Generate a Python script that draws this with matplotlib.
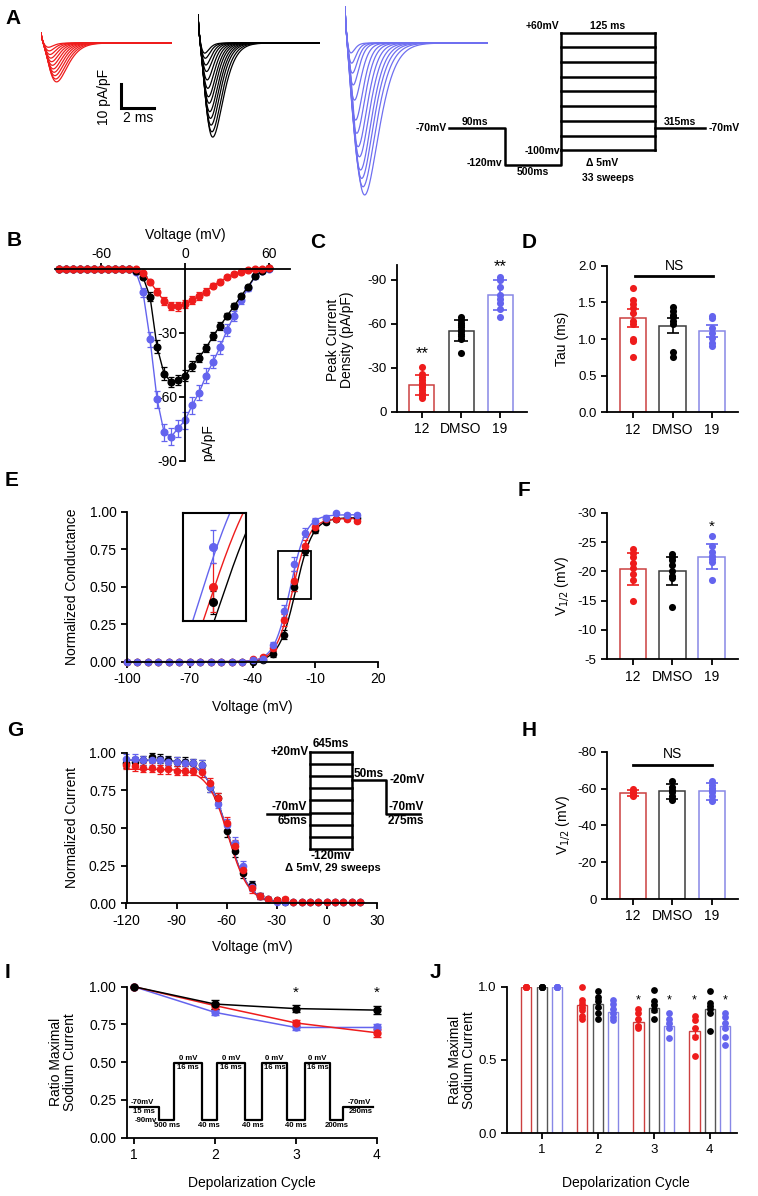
import numpy as np
import matplotlib
matplotlib.use("Agg")
import matplotlib.pyplot as plt
from matplotlib.patches import Rectangle
from matplotlib.transforms import offset_copy
from matplotlib.ticker import FormatStrFormatter

plt.rcParams['font.family'] = ['Liberation Sans', 'DejaVu Sans']
plt.rcParams['axes.unicode_minus'] = False
plt.rcParams['axes.linewidth'] = 1.3
plt.rcParams['xtick.major.width'] = 1.3
plt.rcParams['ytick.major.width'] = 1.3
plt.rcParams['xtick.major.size'] = 4
plt.rcParams['ytick.major.size'] = 4
plt.rcParams['xtick.labelsize'] = 10
plt.rcParams['ytick.labelsize'] = 10

RED, BLUE, BLACK = '#ee1c1c', '#6464ee', '#000000'
RED_EDGE, BLUE_EDGE, BLACK_EDGE = '#cc4040', '#8888e6', '#3c3c3c'
NARROW = ['Liberation Sans Narrow', 'Liberation Sans', 'DejaVu Sans']

# ---------------- data ----------------
# A: example traces (peak density pA/pF, time to peak ms, start artefact pA/pF)
red_amp = [16.2, 15.0, 13.6, 12.2, 10.8, 9.3, 7.8, 6.3, 4.8, 3.3, 1.8]
red_tp = [0.95, 0.9, 0.85, 0.8, 0.75, 0.7, 0.65, 0.6, 0.55, 0.5, 0.45]
black_amp = [39.2, 37.0, 34.2, 31.4, 28.6, 25.1, 22.4, 18.9, 15.4, 11.9, 9.2, 6.4, 4.3]
black_tp = [0.9, 0.85, 0.8, 0.76, 0.72, 0.68, 0.64, 0.6, 0.56, 0.52, 0.48, 0.44, 0.4]
blue_amp = [63.3, 59.9, 56.4, 52.9, 47.4, 43.2, 37.6, 32.1, 23.8, 17.5, 12.6, 8.5, 4.3]
blue_tp = [1.2, 1.1, 1.02, 0.95, 0.88, 0.8, 0.72, 0.65, 0.58, 0.5, 0.45, 0.4, 0.35]
artefact = {'red': 4.2, 'black': 11.7, 'blue': 15.0}

# A: activation protocol (schematic)
pA_widths = [56, 56, 94, 50]
pA_hold, pA_pre = -70, -120
pA_steps = np.arange(-100, 61, 20)

# B: I-V relation
iv_v = np.arange(-90, 61, 5)
iv_red = [0] * 12 + [-1.7, -6.0, -10.6, -15.0, -17.4, -17.5, -16.4, -14.5, -12.7, -10.6,
                     -7.8, -5.9, -3.9, -2.2, -1.2, -0.6, -0.2, 0.2, 0.6]
iv_black = [0] * 11 + [-0.8, -3.8, -13.0, -36.5, -49.0, -53.0, -52.0, -50.0, -45.5, -41.5,
                       -37.0, -31.5, -26.7, -22.0, -17.4, -12.7, -8.3, -3.5, -1.0, 0.3]
iv_blue = [0] * 11 + [-1.5, -11.0, -33.0, -61.0, -76.5, -78.7, -74.7, -71.0, -64.0, -58.0,
                      -50.0, -43.5, -36.7, -28.6, -22.0, -14.5, -9.0, -3.5, -1.0, 0.0]
iv_red_err = [0] * 12 + [0.5, 1, 1.5, 2, 2, 2, 2, 2, 2, 1.5, 1.2, 1, 1, 0.8, 0.6, 0.5, 0.4, 0.3, 0.3]
iv_black_err = [0] * 11 + [0.3, 1, 2, 3, 3, 2.5, 2.5, 2.5, 2.5, 2.2, 2, 2, 1.8, 1.5, 1.5, 1.2, 1, 0.8, 0.5, 0.3]
iv_blue_err = [0] * 11 + [0.5, 2, 3.5, 4, 4, 4, 4, 4, 4, 3.5, 3.5, 3, 3, 3, 2.5, 2, 1.5, 1, 0.5, 0.3]

groups = ['12', 'DMSO', '19']
# C: peak current density
c_mean = [-18.5, -55.5, -79.8]
c_err = [6.7, 7.0, 10.0]
c_dots = [[-31, -26, -24, -22, -20, -18, -17, -15, -13, -11, -9.5],
          [-65, -63, -61, -59, -58, -56, -55, -53, -52, -50, -40],
          [-92, -90, -85, -80, -77, -74, -70, -65]]
# D: tau
d_mean = [1.29, 1.18, 1.11]
d_err = [0.12, 0.10, 0.08]
d_dots = [[1.7, 1.53, 1.48, 1.42, 1.35, 1.25, 1.2, 1.0, 0.97, 0.76],
          [1.43, 1.38, 1.33, 1.3, 1.25, 1.2, 0.82, 0.75],
          [1.32, 1.28, 1.15, 1.08, 1.02, 0.95, 0.9]]

# E: conductance-voltage
e_v = np.arange(-100, 11, 5)
e_blue = [0] * 12 + [0.01, 0.02, 0.11, 0.34, 0.65, 0.86, 0.94, 0.96, 0.99, 0.98, 0.98]
e_red = [0] * 12 + [0.02, 0.03, 0.09, 0.28, 0.54, 0.77, 0.90, 0.95, 0.95, 0.95, 0.94]
e_black = [0] * 12 + [0.0, 0.01, 0.05, 0.18, 0.50, 0.74, 0.88, 0.93, 0.95, 0.96, 0.96]
e_blue_err = [0] * 12 + [0.005, 0.01, 0.02, 0.04, 0.045, 0.03, 0.02, 0.015, 0.01, 0.01, 0.01]
e_red_err = [0] * 12 + [0.005, 0.01, 0.02, 0.04, 0.066, 0.04, 0.02, 0.015, 0.01, 0.01, 0.015]
e_black_err = [0] * 12 + [0.005, 0.01, 0.02, 0.03, 0.03, 0.03, 0.02, 0.015, 0.01, 0.01, 0.01]
# Boltzmann fit parameters (V1/2, slope k, max)
e_fit = {'black': (-19.3, 4.0, 0.96), 'red': (-20.8, 3.9, 0.955), 'blue': (-22.0, 3.8, 0.98)}
e_zoom_box = (-28, 0.42, 16, 0.32)
e_inset_xlim = (-23.9, -15.6)
e_inset_ylim = (0.45, 0.74)

# F: activation V1/2
f_mean = [-20.4, -20.0, -22.5]
f_err = [2.7, 2.4, 2.1]
f_dots = [[-23.8, -23.2, -22.5, -21.5, -20.5, -19.5, -18.5, -15.0],
          [-23, -22.5, -22, -21, -20, -19.2, -18.8, -14],
          [-26, -24.3, -23.3, -22.6, -22.1, -21.6, -18.5]]

# G: steady-state inactivation
g_v = np.arange(-120, 21, 5)
g_black = [0.93, 0.94, 0.95, 0.97, 0.96, 0.95, 0.94, 0.94, 0.93, 0.92, 0.77, 0.70, 0.48, 0.35,
           0.20, 0.12, 0.05, 0.03, 0.02, 0.01, 0.01, 0.01, 0.01, 0.01, 0.01, 0.01, 0.01, 0.01, 0.01]
g_red = [0.92, 0.91, 0.90, 0.90, 0.89, 0.89, 0.88, 0.88, 0.88, 0.87, 0.80, 0.70, 0.53, 0.38,
         0.22, 0.10, 0.05, 0.03, 0.02, 0.03, 0.01, 0.01, 0.01, 0.01, 0.01, 0.01, 0.01, 0.01, 0.01]
g_blue = [0.96, 0.96, 0.95, 0.95, 0.95, 0.94, 0.94, 0.93, 0.93, 0.92, 0.77, 0.66, 0.52, 0.40,
          0.25, 0.11, 0.05, 0.03, 0.01, 0.01, 0.01, 0.01, 0.01, 0.01, 0.01, 0.01, 0.01, 0.01, 0.01]
g_err = [0.03] * 10 + [0.03, 0.03, 0.04, 0.04, 0.03, 0.03, 0.02, 0.01, 0.01, 0.015] + [0.005] * 9
g_fit = {'black': (-59.5, 6.5, 0.95), 'blue': (-59.5, 6.5, 0.95), 'red': (-59.0, 6.2, 0.89)}
# G protocol (schematic widths)
pG_widths = [43, 42, 34, 34]
pG_hold, pG_tail = -70, -20
pG_steps = np.linspace(-120, 20, 9)

# H: inactivation V1/2
h_mean = [-57.5, -58.5, -58.5]
h_err = [1.5, 4.0, 4.5]
h_dots = [[-59.5, -58.5, -58, -57.5, -57, -56.5, -56],
          [-64, -61, -59, -58, -56, -54.5, -54],
          [-64, -62, -60.5, -59, -58, -56, -54, -53]]

# I / J: use dependence
cycles = [1, 2, 3, 4]
i_black = [1.0, 0.885, 0.855, 0.845]
i_red = [1.0, 0.875, 0.76, 0.695]
i_blue = [1.0, 0.83, 0.73, 0.73]
i_black_err = [0, 0.03, 0.025, 0.025]
i_red_err = [0, 0.02, 0.02, 0.025]
i_blue_err = [0, 0.015, 0.015, 0.02]
pI_levels = [-70, -90, 0, -90, 0, -90, 0, -90, 0, -90, -70]
pI_widths = [29.3, 14.7, 27.7, 15, 28.3, 16.7, 25.6, 17.7, 25, 13.3, 30]
pI_durations = ['15 ms', '500 ms', '16 ms', '40 ms', '16 ms', '40 ms', '16 ms', '40 ms', '16 ms', '200ms', '290ms']
j_red = [[1.0] * 6, [1.0, 0.91, 0.88, 0.86, 0.84, 0.80, 0.78], [0.85, 0.82, 0.78, 0.73, 0.72],
         [0.80, 0.77, 0.72, 0.66, 0.53]]
j_black = [[1.0] * 6, [0.97, 0.93, 0.90, 0.86, 0.82, 0.78], [0.98, 0.90, 0.875, 0.84, 0.78],
           [0.97, 0.89, 0.87, 0.85, 0.82, 0.70]]
j_blue = [[1.0] * 6, [0.91, 0.88, 0.85, 0.82, 0.79, 0.77], [0.82, 0.78, 0.755, 0.72, 0.65],
          [0.82, 0.79, 0.75, 0.72, 0.66, 0.60]]

# ---------------- helpers ----------------
W, H = 758, 1196
fig = plt.figure(figsize=(W / 100, H / 100), dpi=100)


def px_axes(l, t, r, b):
    return fig.add_axes([l / W, 1 - b / H, (r - l) / W, (b - t) / H])


def px_text(x, y, s, **kw):
    kw.setdefault('ha', 'center')
    kw.setdefault('va', 'center')
    fig.text(x / W, 1 - y / H, s, **kw)


def lbl(ax, x, y, s, dx=0, dy=0, **kw):
    tr = offset_copy(ax.transData, fig=fig, x=dx, y=dy, units='dots')
    ax.text(x, y, s, transform=tr, clip_on=False, **kw)


def clean(ax):
    ax.spines['top'].set_visible(False)
    ax.spines['right'].set_visible(False)


def bar_panel(ax, means, errs, dots, width, capsize):
    cols = [RED, BLACK, BLUE]
    edges = [RED_EDGE, BLACK_EDGE, BLUE_EDGE]
    for i in range(3):
        ax.bar(i, means[i], width=width, facecolor='white', edgecolor=edges[i], lw=1.1, zorder=1)
        ax.scatter(np.full(len(dots[i]), i), dots[i], s=26, color=cols[i], lw=0, zorder=3, clip_on=False)
        ax.errorbar(i, means[i], yerr=errs[i], color=cols[i], capsize=capsize, elinewidth=1.2,
                    capthick=1.2, zorder=4)
    ax.set_xticks([0, 1, 2], groups)
    ax.tick_params(axis='x', labelsize=10)
    ax.tick_params(axis='y', labelsize=9.5)
    clean(ax)


def boltz_act(v, vh, k, a):
    return a / (1 + np.exp((vh - v) / k))


def boltz_inact(v, vh, k, a):
    return a / (1 + np.exp((v - vh) / k))


# panel letters
for L, x, y in [('A', 5, 18), ('B', 7, 241), ('C', 310, 243), ('D', 522, 243), ('E', 5, 481),
                ('F', 518, 490), ('G', 7, 731), ('H', 522, 730), ('I', 5, 972), ('J', 430, 973)]:
    px_text(x, y, L, ha='left', fontsize=15, fontweight='bold')

# ---------------- A ----------------
trace_t = np.linspace(0, 9, 900)


def na_trace(amp, tp, art, n=3.0):
    return art * np.exp(-trace_t / 0.08) - amp * (trace_t / tp) ** n * np.exp(n * (1 - trace_t / tp))


for key, box, tmax, amps, tps, col in [('red', (41, 0, 171.5, 200), 7.96, red_amp, red_tp, RED),
                                        ('black', (198, 0, 320, 200), 7.44, black_amp, black_tp, BLACK),
                                        ('blue', (345, 0, 488, 200), 8.72, blue_amp, blue_tp, '#6f6ff0')]:
    ax = px_axes(*box)
    for amp, tp in zip(amps, tps):
        ax.plot(trace_t, na_trace(amp, tp, artefact[key]), color=col, lw=0.9)
    ax.set_xlim(0, tmax)
    ax.set_ylim(-65.4, 17.9)
    ax.axis('off')
    if key == 'red':
        sb_t, sb_y = 4.88, -27.1
        ax.plot([sb_t, sb_t, sb_t + 2], [sb_y + 10, sb_y, sb_y], color='black', lw=2.2,
                clip_on=False, solid_joinstyle='miter')
        ax.text(3.84, -22.3, '10 pA/pF', rotation=90, ha='center', va='center', fontsize=10,
                clip_on=False)
        ax.text(5.9, -31.3, '2 ms', ha='center', va='center', fontsize=10, clip_on=False)

axP = px_axes(449, 32.7, 705, 165)
x0, x1, x2, x3, x4 = np.cumsum([0] + pA_widths)
kwp = dict(color='black', lw=1.8, clip_on=False, solid_capstyle='projecting')
axP.plot([x0, x1, x1, x2, x2], [pA_hold, pA_hold, pA_pre, pA_pre, pA_steps[0]], **kwp)
for v in pA_steps:
    axP.plot([x2, x3], [v, v], **kwp)
axP.plot([x2, x2], [pA_steps[0], pA_steps[-1]], **kwp)
axP.plot([x3, x3], [pA_steps[0], pA_steps[-1]], **kwp)
axP.plot([x3, x4], [pA_hold, pA_hold], **kwp)
axP.set_xlim(0, x4)
axP.set_ylim(-120, 60)
axP.axis('off')
fp = dict(fontsize=7.5, fontweight='bold')
lbl(axP, x0, pA_hold, '-70mV', dx=-2, ha='right', va='center', **fp)
lbl(axP, (x0 + x1) / 2 - 2, pA_hold, '90ms', dy=1, ha='center', va='bottom', **fp)
lbl(axP, x1, pA_pre, '-120mv', dx=-3, dy=2, ha='right', va='center', **fp)
lbl(axP, (x1 + x2) / 2, pA_pre, '500ms', dy=-2, ha='center', va='top', **fp)
lbl(axP, x2, pA_steps[0], '-100mv', dx=-1, dy=-1, ha='right', va='center', **fp)
lbl(axP, x2, pA_steps[-1], '+60mV', dx=-2, dy=2, ha='right', va='bottom', **fp)
lbl(axP, (x2 + x3) / 2, pA_steps[-1], '125 ms', dy=2, ha='center', va='bottom', **fp)
lbl(axP, (x3 + x4) / 2, pA_hold, '315ms', dy=1, ha='center', va='bottom', **fp)
lbl(axP, x4, pA_hold, '-70mV', dx=4, ha='left', va='center', **fp)
lbl(axP, (x2 + x3) / 2 - 6, pA_pre, '\u0394 5mV', dy=2, ha='center', va='center', **fp)
lbl(axP, (x2 + x3) / 2, pA_pre, '33 sweeps', dy=-13, ha='center', va='center', **fp)

# ---------------- B ----------------
axB = px_axes(55, 259, 290, 462)
for vals, errs, col in [(iv_blue, iv_blue_err, BLUE), (iv_black, iv_black_err, BLACK),
                        (iv_red, iv_red_err, RED)]:
    axB.errorbar(iv_v, vals, yerr=errs, color=col, lw=1.0, marker='o', ms=4.8, capsize=2,
                 elinewidth=0.9, capthick=0.9, clip_on=False)
axB.set_xlim(-92.9, 75)
axB.set_ylim(-90.5, 4.7)
axB.spines['left'].set_position(('data', 0))
axB.spines['left'].set_bounds(-90, 0)
axB.spines['top'].set_position(('data', 0))
axB.spines['bottom'].set_visible(False)
axB.spines['right'].set_visible(False)
axB.xaxis.tick_top()
axB.set_xticks([-60, 0, 60])
axB.set_yticks([-90, -60, -30])
axB.tick_params(axis='both', direction='out', pad=1.5)
axB.text(0, 15.9, 'Voltage (mV)', ha='center', va='center', fontsize=10, clip_on=False)
axB.text(16.4, -81.6, 'pA/pF', rotation=90, ha='center', va='center', fontsize=10, clip_on=False)

# ---------------- C ----------------
axC = px_axes(397, 265.3, 527, 412)
bar_panel(axC, c_mean, c_err, c_dots, 0.64, 5)
axC.set_xlim(-0.64, 2.69)
axC.set_ylim(0, -100)
axC.set_yticks([0, -30, -60, -90])
axC.text(0, -40, '**', ha='center', va='center', fontsize=12)
axC.text(2, -99, '**', ha='center', va='center', fontsize=12)
px_text(340, 340, 'Peak Current\nDensity (pA/pF)', rotation=90, fontsize=10, linespacing=1.0)

# ---------------- D ----------------
axD = px_axes(607, 265.7, 738, 412.3)
bar_panel(axD, d_mean, d_err, d_dots, 0.66, 4)
axD.set_xlim(-0.66, 2.66)
axD.set_ylim(0, 2.0)
axD.set_yticks([0, 0.5, 1.0, 1.5, 2.0])
axD.yaxis.set_major_formatter(FormatStrFormatter('%.1f'))
axD.plot([0.05, 2.03], [1.86, 1.86], color='black', lw=2, clip_on=False)
axD.text(1.04, 2.0, 'NS', ha='center', va='center', fontsize=10, clip_on=False)
px_text(562, 339, 'Tau (ms)', rotation=90, fontsize=10)

# ---------------- E ----------------
axE = px_axes(127, 511.7, 378, 661.7)
fit_v = np.linspace(-100, 10, 500)
ecols = {'black': BLACK, 'red': RED, 'blue': BLUE}
edata = {'black': (e_black, e_black_err), 'red': (e_red, e_red_err), 'blue': (e_blue, e_blue_err)}
axIn = px_axes(183, 513, 246, 621)
for key in ['black', 'red', 'blue']:
    vals, errs = edata[key]
    for ax, ms in [(axE, 4.5), (axIn, 5.5)]:
        ax.plot(fit_v, boltz_act(fit_v, *e_fit[key]), color=ecols[key], lw=1.0)
        ax.errorbar(e_v, vals, yerr=errs, fmt='o', color=ecols[key], ms=ms, capsize=2,
                    elinewidth=0.9, capthick=0.9, clip_on=(ax is axIn))
axE.add_patch(Rectangle(e_zoom_box[:2], e_zoom_box[2], e_zoom_box[3], fill=False, lw=1.3,
                        edgecolor='black', zorder=5))
axE.set_xlim(-100, 20)
axE.set_ylim(0, 1)
axE.set_xticks([-100, -70, -40, -10, 20])
axE.set_yticks([0, 0.25, 0.5, 0.75, 1.0])
axE.yaxis.set_major_formatter(FormatStrFormatter('%.2f'))
clean(axE)
axIn.set_xlim(*e_inset_xlim)
axIn.set_ylim(*e_inset_ylim)
axIn.set_xticks([])
axIn.set_yticks([])
for s in axIn.spines.values():
    s.set_linewidth(1.5)
px_text(72, 587, 'Normalized Conductance', rotation=90, fontsize=10)
px_text(252, 707, 'Voltage (mV)', fontsize=10)

# ---------------- F ----------------
axF = px_axes(607, 512.7, 738, 659.3)
bar_panel(axF, f_mean, f_err, f_dots, 0.68, 4)
axF.set_xlim(-0.66, 2.67)
axF.set_ylim(-5, -30)
axF.set_yticks([-5, -10, -15, -20, -25, -30])
axF.text(2, -27.6, '*', ha='center', va='center', fontsize=11)
px_text(562, 586, 'V$_{1/2}$ (mV)', rotation=90, fontsize=10)

# ---------------- G ----------------
axG = px_axes(126.5, 752.7, 376.7, 903.3)
gfit_v = np.linspace(-120, 20, 500)
for key, vals in [('black', g_black), ('blue', g_blue), ('red', g_red)]:
    axG.plot(gfit_v, boltz_inact(gfit_v, *g_fit[key]), color=ecols[key], lw=1.0)
    axG.errorbar(g_v, vals, yerr=g_err, fmt='o', color=ecols[key], ms=4.5, capsize=2,
                 elinewidth=0.9, capthick=0.9, clip_on=False)
axG.set_xlim(-120, 30)
axG.set_ylim(0, 1)
axG.set_xticks([-120, -90, -60, -30, 0, 30])
axG.set_yticks([0, 0.25, 0.5, 0.75, 1.0])
axG.yaxis.set_major_formatter(FormatStrFormatter('%.2f'))
clean(axG)
px_text(72, 828, 'Normalized Current', rotation=90, fontsize=10)
px_text(252, 947, 'Voltage (mV)', fontsize=10)

axPG = px_axes(267, 751.7, 420, 849.3)
g0, g1, g2, g3, g4 = np.cumsum([0] + pG_widths)
axPG.plot([g0, g1], [pG_hold, pG_hold], **kwp)
for v in pG_steps:
    axPG.plot([g1, g2], [v, v], **kwp)
axPG.plot([g1, g1], [pG_steps[0], pG_steps[-1]], **kwp)
axPG.plot([g2, g2], [pG_steps[0], pG_steps[-1]], **kwp)
axPG.plot([g2, g3, g3, g4], [pG_tail, pG_tail, pG_hold, pG_hold], **kwp)
axPG.set_xlim(0, g4)
axPG.set_ylim(-120, 20)
axPG.axis('off')
fg = dict(fontsize=8.5, fontweight='bold')
lbl(axPG, g1, pG_steps[-1], '+20mV', dx=-1, ha='right', va='center', **fg)
lbl(axPG, (g1 + g2) / 2, pG_steps[-1], '645ms', dy=2, ha='center', va='bottom', **fg)
lbl(axPG, g1, pG_hold, '-70mV', dx=-3, dy=1, ha='right', va='bottom', **fg)
lbl(axPG, g1, pG_hold, '65ms', dx=-3, dy=-1, ha='right', va='top', **fg)
lbl(axPG, (g2 + g3) / 2, pG_tail, '50ms', dy=0, ha='center', va='bottom', **fg)
lbl(axPG, g3, pG_tail, '-20mV', dx=3, ha='left', va='center', **fg)
lbl(axPG, g3, pG_hold, '-70mV', dx=2, dy=1, ha='left', va='bottom', **fg)
lbl(axPG, g3, pG_hold, '275ms', dx=2, dy=-1, ha='left', va='top', **fg)
lbl(axPG, (g1 + g2) / 2, pG_steps[0], '-120mv', dy=-1, ha='center', va='top', **fg)
lbl(axPG, 66, pG_steps[0], '\u0394 5mV, 29 sweeps', dy=-14, ha='center', va='top',
    fontsize=8, fontweight='bold')

# ---------------- H ----------------
axH = px_axes(607, 751.7, 738, 899)
bar_panel(axH, h_mean, h_err, h_dots, 0.66, 4)
axH.set_xlim(-0.66, 2.67)
axH.set_ylim(0, -80)
axH.set_yticks([0, -20, -40, -60, -80])
axH.plot([0, 2], [-72.8, -72.8], color='black', lw=2, clip_on=False)
axH.text(1.0, -79, 'NS', ha='center', va='center', fontsize=10, clip_on=False)
px_text(563, 825, 'V$_{1/2}$ (mV)', rotation=90, fontsize=10)

# ---------------- I ----------------
axIu = px_axes(126.7, 986.7, 376.7, 1137.7)
for vals, errs, col in [(i_blue, i_blue_err, BLUE), (i_red, i_red_err, RED), (i_black, i_black_err, BLACK)]:
    axIu.errorbar(cycles, vals, yerr=errs, color=col, lw=1.1, marker='o', ms=5, capsize=3,
                  elinewidth=1.0, capthick=1.0, clip_on=False)
for c in [3, 4]:
    axIu.text(c, 0.96, '*', ha='center', va='center', fontsize=11)
axIu.set_xlim(0.91, 4.0)
axIu.set_ylim(0, 1)
axIu.set_xticks(cycles)
axIu.set_yticks([0, 0.25, 0.5, 0.75, 1.0])
axIu.yaxis.set_major_formatter(FormatStrFormatter('%.2f'))
clean(axIu)
px_text(63, 1062, 'Ratio Maximal\nSodium Current', rotation=90, fontsize=10, linespacing=1.0)
px_text(252, 1183, 'Depolarization Cycle', fontsize=10)

axPI = px_axes(130, 1062.7, 373.3, 1120)
edges = np.cumsum([0] + pI_widths)
xs, ys = [], []
for k, lvl in enumerate(pI_levels):
    xs += [edges[k], edges[k + 1]]
    ys += [lvl, lvl]
axPI.plot(xs, ys, color='black', lw=1.6, clip_on=False)
axPI.set_xlim(0, edges[-1])
axPI.set_ylim(-90, 0)
axPI.axis('off')
fi = dict(fontsize=5.6, fontweight='bold', family=NARROW)
last = len(pI_levels) - 1
for k, lvl in enumerate(pI_levels):
    a, b = edges[k], edges[k + 1]
    mid = (a + b) / 2
    dur = pI_durations[k]
    if k == 0:
        lbl(axPI, a + 1, lvl, '-70mV', dy=1, ha='left', va='bottom', **fi)
        lbl(axPI, a + 3, lvl, dur, dy=-1, ha='left', va='top', **fi)
    elif k == last:
        lbl(axPI, a + 4, lvl, '-70mV', dy=1, ha='left', va='bottom', **fi)
        lbl(axPI, a + 5, lvl, dur, dy=-1, ha='left', va='top', **fi)
    elif lvl == 0:
        lbl(axPI, mid, lvl, '0 mV', dy=1, ha='center', va='bottom', **fi)
        lbl(axPI, mid, lvl, dur, dy=-1, ha='center', va='top', **fi)
    else:
        if k == 1:
            lbl(axPI, a - 2, lvl, '-90mv', dy=-1, ha='right', va='center', **fi)
        lbl(axPI, mid, lvl, dur, dy=-2, ha='center', va='top', **fi)

# ---------------- J ----------------
axJ = px_axes(507.3, 986.7, 737.3, 1133.3)
offs = [-0.273, 0, 0.273]
for off, vals, errs, dots, col, edge in [(offs[0], i_red, i_red_err, j_red, RED, RED_EDGE),
                                         (offs[1], i_black, i_black_err, j_black, BLACK, '#555555'),
                                         (offs[2], i_blue, i_blue_err, j_blue, BLUE, BLUE_EDGE)]:
    xs_ = np.array(cycles) + off
    axJ.bar(xs_, vals, width=0.18, facecolor='white', edgecolor=edge, lw=1.0, zorder=1)
    for x, d in zip(xs_, dots):
        axJ.scatter(np.full(len(d), x), d, s=24, color=col, lw=0, zorder=3, clip_on=False)
    axJ.errorbar(xs_, vals, yerr=errs, fmt='none', ecolor=col, capsize=2, elinewidth=1.0,
                 capthick=1.0, zorder=4)
for c in [3, 4]:
    for off in [offs[0], offs[2]]:
        axJ.text(c + off, 0.905, '*', ha='center', va='center', fontsize=9)
axJ.set_xlim(0.387, 4.49)
axJ.set_ylim(0, 1)
axJ.set_xticks(cycles)
axJ.set_yticks([0, 0.5, 1.0])
axJ.yaxis.set_major_formatter(FormatStrFormatter('%.1f'))
axJ.tick_params(labelsize=9.5)
clean(axJ)
px_text(462, 1060, 'Ratio Maximal\nSodium Current', rotation=90, fontsize=10, linespacing=1.0)
px_text(626, 1183, 'Depolarization Cycle', fontsize=10)

fig.savefig('out.png', dpi=100)
